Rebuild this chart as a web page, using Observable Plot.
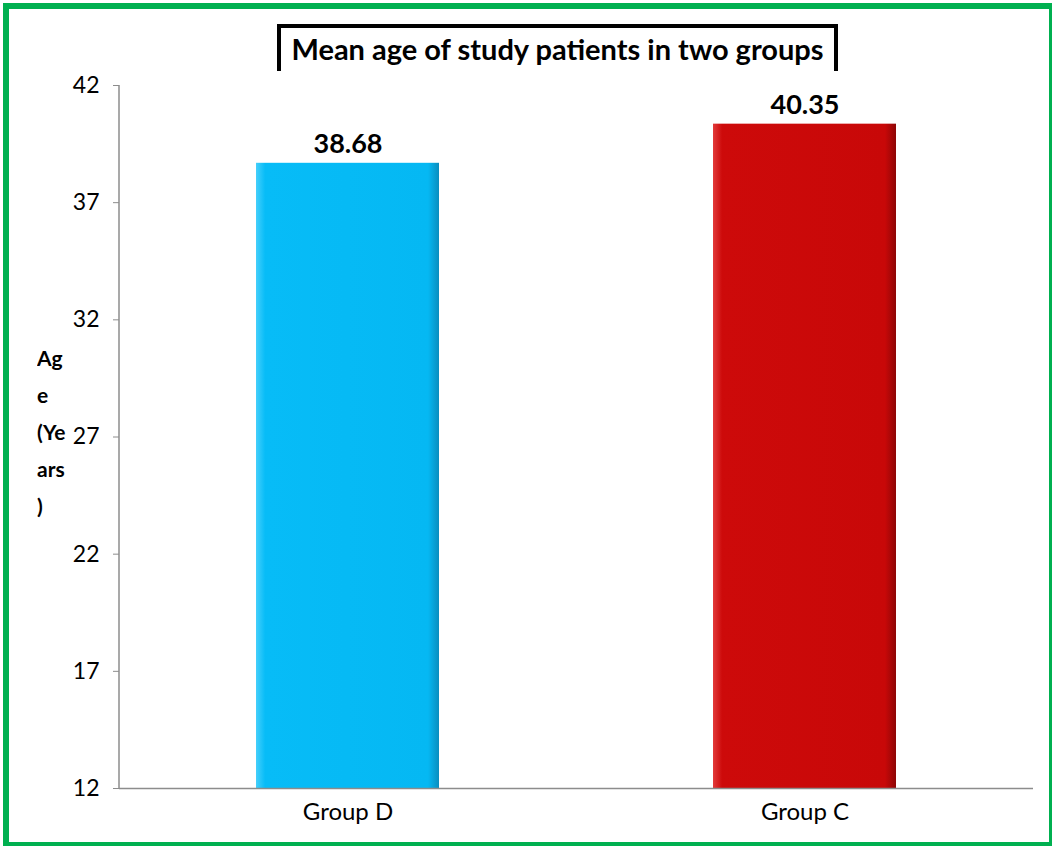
<!DOCTYPE html>
<html>
<head>
<meta charset="utf-8">
<script src="https://cdn.jsdelivr.net/npm/d3@7"></script>
<script src="https://cdn.jsdelivr.net/npm/@observablehq/plot@0.6"></script>
<style>
  html, body { margin: 0; padding: 0; background: #fff; }
  body { width: 1052px; height: 846px; position: relative; overflow: hidden; font-family: Lato, "Open Sans", sans-serif; }
  #frame { position: absolute; left: 3px; top: 3px; width: 1040px; height: 833px; border: 6px solid #00B050; border-bottom-width: 4px; pointer-events: none; z-index: 5; }
  #head { position: absolute; left: 0; top: 0; width: 1052px; height: 70px; }
  #title { position: absolute; left: 277px; top: 24px; width: 553px; height: 43px; border-top: 4px solid #000; border-left: 4px solid #000; border-right: 4px solid #000; font-weight: bold; font-size: 29px; text-align: center; line-height: 42px; color: #000; white-space: nowrap; }
  #chart { position: absolute; left: 0; top: 70px; }
  #ylab { position: absolute; left: 37px; top: 339px; width: 44px; height: 185px; overflow: hidden; font-weight: bold; font-size: 21px; line-height: 37px; color: #000; }
</style>
</head>
<body>
<div id="head"><div id="title">Mean age of study patients in two groups</div></div>
<div id="chart"></div>
<div id="ylab">Ag<br>e<br>(Ye<br>ars<br>)</div>
<div id="frame"></div>
<script>
const groups = ["Group D", "Group C"];
const meanAge = [38.68, 40.35];
const barColors = ["url(#gradBlue)", "url(#gradRed)"];
const yTicks = [12, 17, 22, 27, 32, 37, 42];

const data = groups.map((g, i) => ({group: g, age: meanAge[i], color: barColors[i]}));

function defs() {
  const d = d3.create("svg:defs");
  const mk = (id, stops) => {
    const g = d.append("linearGradient").attr("id", id).attr("x1", "0").attr("x2", "1").attr("y1", "0").attr("y2", "0");
    stops.forEach(([o, c]) => g.append("stop").attr("offset", o).attr("stop-color", c));
  };
  mk("gradBlue", [["0%", "#45CFFB"], ["5%", "#07BCF7"], ["94%", "#05B8F3"], ["100%", "#0A8DBE"]]);
  mk("gradRed", [["0%", "#E23A3A"], ["5%", "#CD0A0A"], ["94%", "#C80808"], ["100%", "#8E0606"]]);
  return d.node();
}

const chart = Plot.plot({
  width: 1052,
  height: 776,
  marginLeft: 119,
  marginRight: 19,
  marginTop: 15,
  marginBottom: 58,
  style: {fontFamily: "Lato, 'Open Sans', sans-serif", fontSize: "23px", color: "#000", background: "transparent"},
  x: {domain: groups, padding: 0, label: null},
  y: {domain: [12, 42], label: null},
  marks: [
    defs,
    Plot.barY(data, {x: "group", y1: 12, y2: "age", fill: "color", insetLeft: 137, insetRight: 137}),
    Plot.text(data, {x: "group", y: "age", text: d => d.age.toFixed(2), dy: -19, fontWeight: "bold", fontSize: 27, fill: "#000"}),
    Plot.ruleY([12], {stroke: "#8c8c8c", strokeWidth: 1.5}),
    Plot.axisY({ticks: yTicks, tickFormat: d3.format("d"), tickSize: 6, tickPadding: 14, fontSize: 23, stroke: "#8c8c8c", fill: "#000", label: null}),
    Plot.axisX({tickSize: 0, tickPadding: 14, fontSize: 24, fill: "#000", label: null})
  ]
});
document.getElementById("chart").appendChild(chart);

// y-axis line
d3.select(chart).append("line").attr("x1", 119).attr("x2", 119).attr("y1", 15).attr("y2", 718).attr("stroke", "#8c8c8c").attr("stroke-width", 1.5);
</script>
</body>
</html>
